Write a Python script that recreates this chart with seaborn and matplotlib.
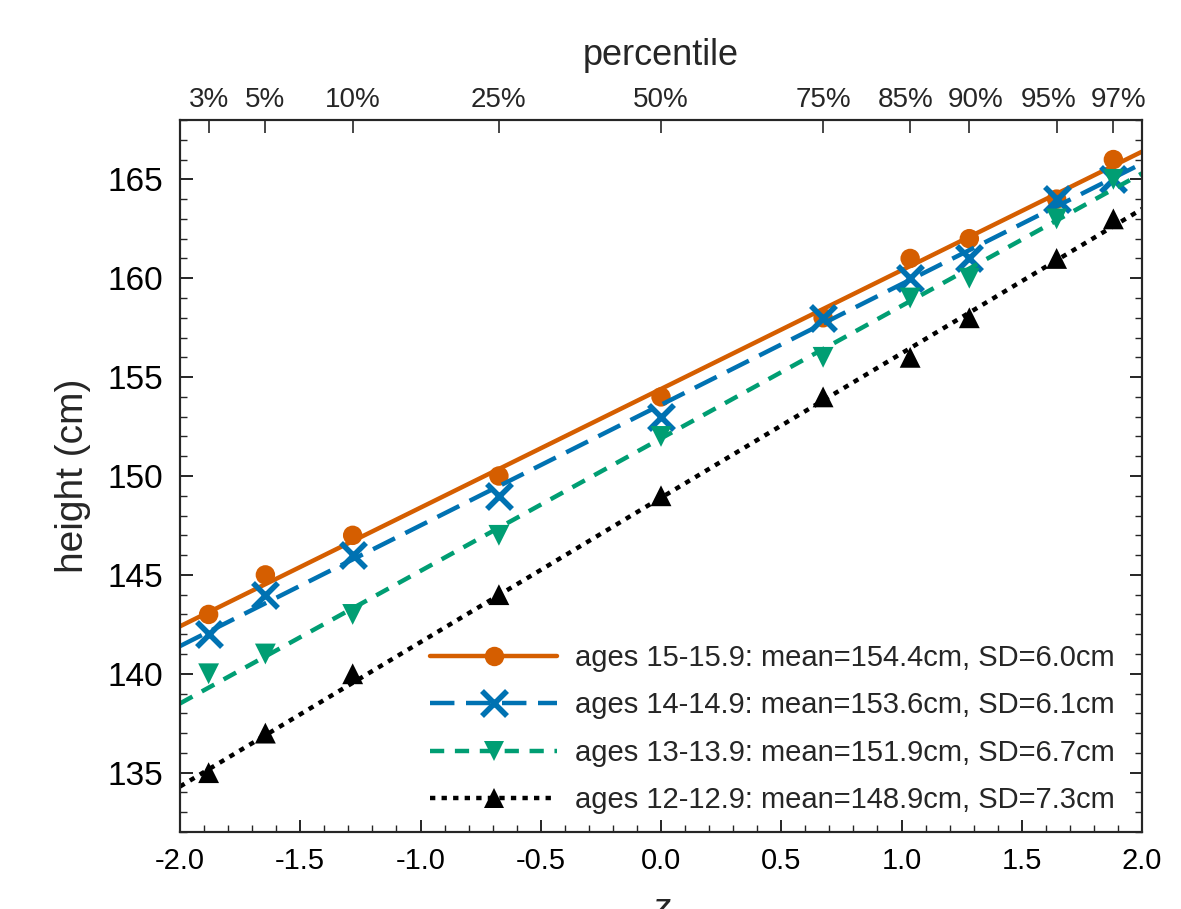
import matplotlib
matplotlib.use("Agg")
import matplotlib.pyplot as plt
from matplotlib.lines import Line2D
from matplotlib.ticker import MultipleLocator
import matplotlib.transforms as mtransforms
import seaborn as sns
import pandas as pd

# ---- data ----
percentile_labels = ["3%", "5%", "10%", "25%", "50%", "75%", "85%", "90%", "95%", "97%"]
z_values = [-1.881, -1.645, -1.282, -0.674, 0.0, 0.674, 1.036, 1.282, 1.645, 1.881]

series_labels = [
    "ages 15-15.9: mean=154.4cm, SD=6.0cm",
    "ages 14-14.9: mean=153.6cm, SD=6.1cm",
    "ages 13-13.9: mean=151.9cm, SD=6.7cm",
    "ages 12-12.9: mean=148.9cm, SD=7.3cm",
]
heights_15 = [143, 145, 147, 150, 154, 158, 161, 162, 164, 166]
heights_14 = [142, 144, 146, 149, 153, 158, 160, 161, 164, 165]
heights_13 = [140, 141, 143, 147, 152, 156, 159, 160, 163, 165]
heights_12 = [135, 137, 140, 144, 149, 154, 156, 158, 161, 163]

# fitted lines, read at z = -2 and z = 2
line_x = [-2.0, 2.0]
line_15 = [142.4, 166.4]
line_14 = [141.4, 165.8]
line_13 = [138.5, 165.3]
line_12 = [134.3, 163.5]

# ---- style ----
sns.set_theme(style="ticks")
plt.rcParams["font.family"] = ["Liberation Sans", "DejaVu Sans"]

colors = ["#D55E00", "#0072B2", "#009E73", "#000000"]
markers = ["o", "x", "v", "^"]
msizes = [14, 18, 15, 15]
mews = [1, 4, 1, 1]
lss = ["-", (0, (5.5, 2.6)), (0, (3.2, 2.4)), (0, (1.2, 1.4))]

fig = plt.figure(figsize=(11.81, 9.09), dpi=100)
ax = fig.add_axes([180 / 1181, 1 - 832 / 909, (1142 - 180) / 1181, (832 - 120) / 909])

all_heights = [heights_15, heights_14, heights_13, heights_12]
all_lines = [line_15, line_14, line_13, line_12]

for i in range(4):
    dfl = pd.DataFrame({"z": line_x, "h": all_lines[i]})
    sns.lineplot(data=dfl, x="z", y="h", ax=ax, color=colors[i], lw=3.2,
                 linestyle=lss[i], zorder=2 + i, legend=False,
                 dash_capstyle="butt")
    dfp = pd.DataFrame({"z": z_values, "h": all_heights[i]})
    if markers[i] == "x":
        sns.scatterplot(data=dfp, x="z", y="h", ax=ax, marker="x", s=msizes[i] ** 2,
                        color=colors[i], linewidth=mews[i], zorder=2.5 + i, legend=False)
    else:
        sns.scatterplot(data=dfp, x="z", y="h", ax=ax, marker=markers[i], s=msizes[i] ** 2,
                        color=colors[i], edgecolor="none", linewidth=0, zorder=2.5 + i,
                        legend=False)

ax.set_xlim(-2.0, 2.0)
ax.set_ylim(132, 168)
ax.xaxis.set_major_locator(MultipleLocator(0.5))
ax.xaxis.set_minor_locator(MultipleLocator(0.1))
ax.yaxis.set_major_locator(MultipleLocator(5))
ax.yaxis.set_minor_locator(MultipleLocator(1))
ax.xaxis.set_major_formatter(matplotlib.ticker.FormatStrFormatter("%.1f"))

ax.tick_params(axis="both", which="major", direction="in", length=9, width=1.2,
               right=True, top=False, colors="black")
ax.tick_params(axis="both", which="minor", direction="in", length=5, width=1.0,
               right=True, top=False)
ax.tick_params(axis="x", which="major", pad=11, labelsize=21)
ax.tick_params(axis="y", which="major", pad=12, labelsize=24)
for s in ax.spines.values():
    s.set_linewidth(1.5)
    s.set_color("black")

ax.set_xlabel("z", fontsize=26, style="italic", labelpad=12)
ax.set_ylabel("height (cm)", fontsize=28, labelpad=12)

# top axis with percentiles
top = ax.twiny()
top.set_xlim(ax.get_xlim())
top.set_xticks(z_values)
top.set_xticklabels(percentile_labels, fontsize=20)
top.xaxis.set_minor_locator(matplotlib.ticker.NullLocator())
top.tick_params(axis="x", direction="in", length=9, width=1.2, pad=5)
top.set_xlabel("percentile", fontsize=26, labelpad=16)
for s in top.spines.values():
    s.set_linewidth(1.5)

# small nudges of crowded top labels (in pixels)
nudges = {"85%": -5, "90%": 6, "95%": -8, "97%": 5}
for lab in top.get_xticklabels():
    dx = nudges.get(lab.get_text(), 0)
    if dx:
        lab.set_transform(lab.get_transform() +
                          mtransforms.ScaledTranslation(dx / 100, 0, fig.dpi_scale_trans))

# legend with proxy handles
handles = []
for i in range(4):
    handles.append(Line2D([0], [0], color=colors[i], lw=3.2, linestyle=lss[i],
                          marker=markers[i], markersize=msizes[i],
                          markeredgewidth=mews[i] if markers[i] == "x" else 0,
                          markeredgecolor=colors[i], markerfacecolor=colors[i],
                          dash_capstyle="butt"))
leg = ax.legend(handles, series_labels, loc="lower right", frameon=False, fontsize=21,
                handlelength=4.35, handletextpad=0.62, labelspacing=0.67,
                bbox_to_anchor=(0.99, 0.0), borderaxespad=0.2)

fig.savefig("out.png", dpi=100)
